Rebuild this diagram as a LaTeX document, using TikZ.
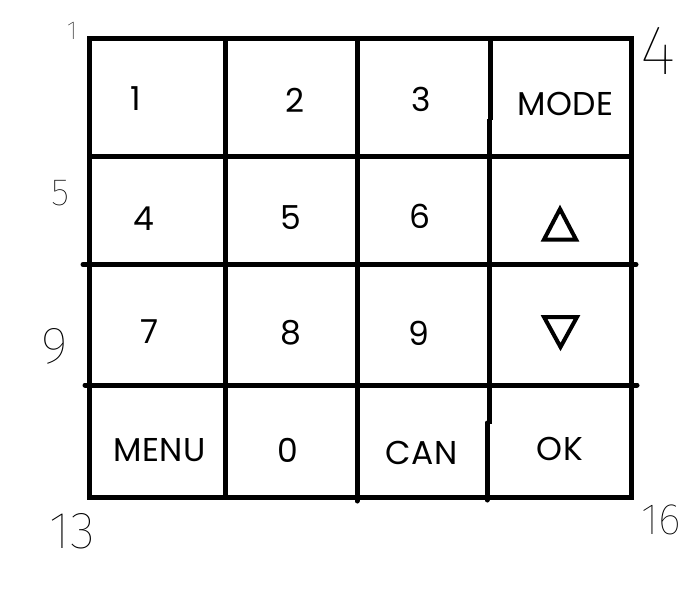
\documentclass[tikz,border=0pt]{standalone}
\usepackage{fontspec}
\newfontfamily\keyfont{Poppins}[LetterSpace=2]
\IfFontExistsTF{Fira Sans Thin}
  {\newfontfamily\handfont{Fira Sans Thin}}
  {\IfFontExistsTF{Fira Sans Light}
    {\newfontfamily\handfont{Fira Sans Light}}
    {\newfontfamily\handfont{Liberation Sans}}}
\definecolor{padline}{HTML}{000000}

\tikzset{
  padrule/.style={draw=padline, line width=5pt},
  keylabel/.style={inner sep=0pt, font=\keyfont\fontsize{33}{38}\selectfont},
  cornerno/.style={inner sep=0pt, text=padline},
  arrowkey/.style={draw=padline, line width=4pt, miter limit=10}
}

\begin{document}
\begin{tikzpicture}[x=1pt, y=-1pt]
    \useasboundingbox (0,0) rectangle (698,613);
    \fill[white] (0,0) rectangle (698,613);

    % outer frame and rules
    \draw[padrule, line join=miter] (89,38.5) -- (631,38.5) -- (631,497) -- (89,497) -- cycle;
    \draw[padrule] (89,156) -- (631,156);
    \draw[padrule, line cap=round] (83,264.5) -- (636,264.5);
    \draw[padrule, line cap=round] (85,385) -- (637,385);
    \draw[padrule] (225,38.5) -- (225,497);
    \draw[padrule, line cap=round] (357,38.5) -- (357,501);
    \draw[padrule] (490,38.5) -- (490,120);
    \draw[padrule] (489,119) -- (489,424);
    \draw[padrule, line cap=round] (487,423) -- (487,500);

    % keys
    \node[keylabel] (key1) at (135.5,99) {1};
    \node[keylabel] (key2) at (294.5,100) {2};
    \node[keylabel] (key3) at (421,99) {3};
    \node[keylabel] (keymode) at (565.5,104) {MODE};
    \node[keylabel] (key4) at (144,219) {4};
    \node[keylabel] (key5) at (291,218) {5};
    \node[keylabel] (key6) at (420,216) {6};
    \node[keylabel] (key7) at (149.5,331.5) {7};
    \node[keylabel] (key8) at (291,333) {8};
    \node[keylabel] (key9) at (419,333) {9};
    \node[keylabel] (keymenu) at (159.5,450) {MENU};
    \node[keylabel] (key0) at (288,450) {0};
    \node[keylabel] (keycan) at (421.5,453) {CAN};
    \node[keylabel] (keyok) at (560,449) {OK};

    % up and down arrows
    \draw[arrowkey] (560,209) -- (576,239.5) -- (544,239.5) -- cycle;
    \draw[arrowkey] (544,317) -- (577,317) -- (560.5,347) -- cycle;

    % corner numbers
    \node[cornerno, font=\handfont\fontsize{26}{28}\selectfont] (cornerA) at (72,30.5) {1};
    \node[cornerno, font=\handfont\fontsize{70}{76}\selectfont] (cornerB) at (658,50.5) {4};
    \node[cornerno, font=\handfont\fontsize{38}{42}\selectfont] (cornerC) at (61,193) {5};
    \node[cornerno, font=\handfont\fontsize{52}{56}\selectfont] (cornerD) at (54.5,346.5) {9};
    \node[cornerno, font=\handfont\fontsize{52}{56}\selectfont] (cornerE) at (72.5,531.5) {13};
    \node[cornerno, font=\handfont\fontsize{44}{48}\selectfont] (cornerF) at (661,520) {16};
\end{tikzpicture}
\end{document}
